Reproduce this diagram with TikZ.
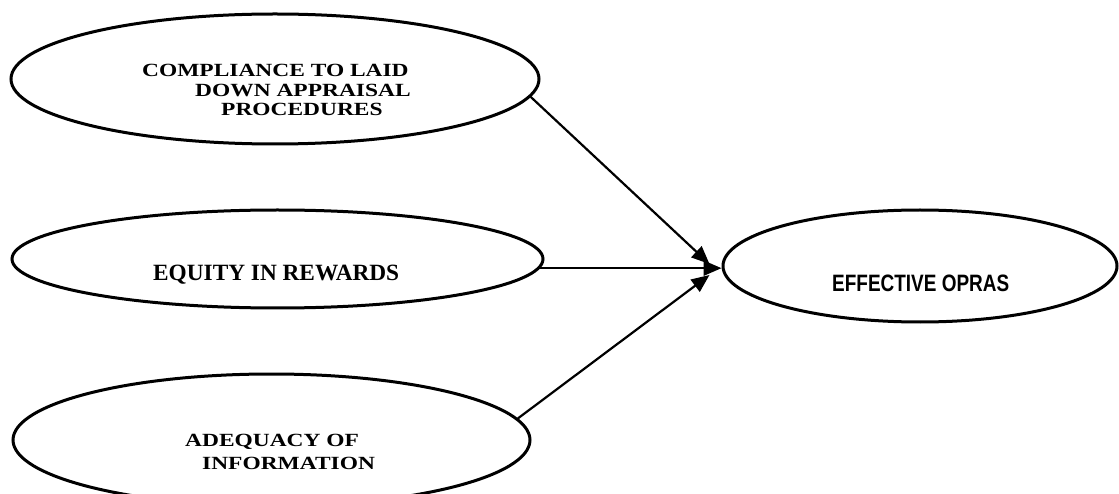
\documentclass[tikz,border=0pt]{standalone}
\usepackage{fontspec}
\usepackage{tikz}
\usetikzlibrary{shapes.geometric,arrows.meta}

\newfontfamily\labelserif{Liberation Serif}[FakeStretch=1.26]
\newfontfamily\equityserif{Liberation Serif}
\newfontfamily\resultsans{Liberation Sans}[FakeStretch=0.8]

\tikzset{
  oval/.style={ellipse, draw, line width=3pt, inner sep=0pt},
  link/.style={-{Triangle[length=18pt,width=15pt]}, line width=2.2pt},
  ovaltext/.style={inner sep=0pt, align=left, anchor=north west,
    font=\labelserif\bfseries\fontsize{18.6}{19.5}\selectfont},
}

\begin{document}
\begin{tikzpicture}[x=1pt,y=-1pt]
  \useasboundingbox (0,0) rectangle (1119,494);

  % Left ovals
  \node[oval, minimum width=528pt, minimum height=130pt] (compliance) at (275,79) {};
  \node[oval, minimum width=531pt, minimum height=98pt]  (equity)     at (277.5,259) {};
  \node[oval, minimum width=517pt, minimum height=132pt] (adequacy)   at (271.5,440) {};

  % Right oval
  \node[oval, minimum width=394pt, minimum height=112pt] (opras) at (920,266) {};

  % Oval texts
  \node[ovaltext] (compliancetext) at (142,64)
    {COMPLIANCE TO LAID\\\hspace*{53pt}DOWN APPRAISAL\\\hspace*{79pt}PROCEDURES};
  \node[anchor=base west, inner sep=0pt,
        font=\equityserif\bfseries\fontsize{23.3}{24}\selectfont] (equitytext) at (153,281)
    {EQUITY IN REWARDS};
  \node[ovaltext, font=\labelserif\bfseries\fontsize{18.6}{23}\selectfont] (adequacytext) at (185,434)
    {ADEQUACY OF\\\hspace*{17pt}INFORMATION};
  \node[anchor=base west, inner sep=0pt,
        font=\resultsans\bfseries\fontsize{23.7}{24}\selectfont] (oprastext) at (832,291)
    {EFFECTIVE OPRAS};

  % Arrows into the right oval
  \coordinate (equityout) at (equity.-2.2);
  \draw[link] (compliance.-4.1) -- ([xshift=-12pt,yshift=2pt]opras.west);
  \draw[link] (equityout) -- (equityout -| opras.west);
  \draw[link] (adequacy.5.4) -- ([xshift=-12pt,yshift=-9pt]opras.west);

\end{tikzpicture}
\end{document}
